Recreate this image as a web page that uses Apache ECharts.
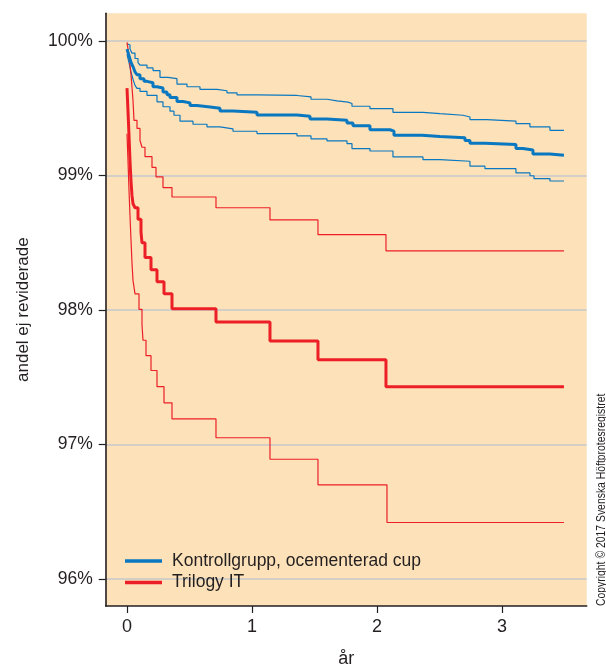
<!DOCTYPE html>
<html>
<head>
<meta charset="utf-8">
<script src="https://cdn.jsdelivr.net/npm/echarts@6/dist/echarts.min.js"></script>
<style>html,body{margin:0;padding:0;background:#fff}#c{width:606px;height:666px}</style>
</head>
<body>
<div id="c"></div>
<script>
// ---- data (years, percent not revised) ----
var yTicks = [96, 97, 98, 99, 100];
var xTicks = [0, 1, 2, 3];
var seriesNames = ['Kontrollgrupp, ocementerad cup', 'Trilogy IT'];
var xTitle = 'år';
var yTitle = 'andel ej reviderade';
var copyright = 'Copyright © 2017 Svenska Höftprotesregistret';

var blueT = [0,0.016,0.032,0.048,0.064,0.08,0.104,0.136,0.16,0.208,0.24,0.288,0.32,0.344,0.4,0.448,0.504,0.56,0.664,0.744,0.848,1.04,1.36,1.464,1.6,1.76,1.808,1.944,2.104,2.136,2.36,2.504,2.704,2.744,2.864,3.112,3.168,3.248,3.384,3.496];
var blueV = [99.94,99.89,99.84,99.81,99.77,99.75,99.72,99.70,99.69,99.66,99.65,99.62,99.60,99.58,99.55,99.54,99.52,99.51,99.50,99.48,99.47,99.45,99.44,99.42,99.41,99.39,99.37,99.34,99.33,99.30,99.29,99.28,99.26,99.24,99.23,99.20,99.19,99.16,99.15,99.15];

var blueUpT = [0,0.008,0.024,0.04,0.064,0.088,0.104,0.16,0.208,0.264,0.328,0.4,0.48,0.584,0.72,0.8,0.88,1.04,1.36,1.472,1.6,1.68,1.768,1.8,1.944,2.128,2.368,2.504,2.688,2.744,2.88,3.112,3.224,3.384,3.496];
var blueUpV = [99.98,99.97,99.94,99.91,99.87,99.84,99.82,99.80,99.78,99.73,99.72,99.68,99.66,99.64,99.63,99.615,99.60,99.595,99.585,99.567,99.555,99.546,99.535,99.515,99.497,99.47,99.46,99.448,99.435,99.416,99.405,99.386,99.361,99.336,99.336];

var blueLoT = [0,0.016,0.032,0.048,0.064,0.08,0.104,0.16,0.24,0.288,0.344,0.376,0.424,0.528,0.64,0.744,0.848,1.04,1.36,1.472,1.6,1.76,1.8,1.944,2.128,2.368,2.504,2.744,2.864,3.112,3.224,3.256,3.384,3.496];
var blueLoV = [99.90,99.84,99.77,99.715,99.67,99.648,99.626,99.596,99.548,99.511,99.478,99.448,99.404,99.381,99.361,99.347,99.329,99.312,99.295,99.273,99.258,99.237,99.20,99.182,99.138,99.118,99.106,99.069,99.051,99.019,98.998,98.977,98.959,98.959];

var redT = [0,0.008,0.016,0.024,0.032,0.04,0.048,0.064,0.088,0.112,0.12,0.144,0.192,0.24,0.296,0.36,0.712,1.144,1.528,2.072,3.496];
var redV = [99.65,99.48,99.30,99.11,98.96,98.85,98.79,98.76,98.675,98.58,98.50,98.39,98.30,98.21,98.12,98.01,97.91,97.77,97.63,97.43,97.43];

var redUpT = [0,0.016,0.032,0.048,0.056,0.08,0.104,0.12,0.144,0.2,0.232,0.288,0.36,0.712,1.144,1.528,2.072,3.496];
var redUpV = [99.99,99.89,99.75,99.56,99.41,99.35,99.26,99.21,99.14,99.06,98.99,98.91,98.84,98.76,98.67,98.56,98.44,98.44];

var redLoT = [0,0.008,0.016,0.024,0.032,0.04,0.048,0.064,0.096,0.12,0.128,0.152,0.192,0.24,0.296,0.36,0.712,1.144,1.528,2.08,3.496];
var redLoV = [99.31,99.11,98.89,98.70,98.52,98.35,98.22,98.12,98.005,97.89,97.775,97.66,97.55,97.43,97.31,97.19,97.05,96.89,96.70,96.42,96.42];

function pairs(t, v) { return t.map(function (x, i) { return [x, v[i]]; }); }

var BLUE = '#0a78c0', RED = '#ec1f27', TXT = '#231f20';
var FONT = "'Liberation Sans','Arial',sans-serif";

function line(name, t, v, color, w, z) {
  return {
    name: name, type: 'line', step: 'end', data: pairs(t, v),
    showSymbol: false, symbol: 'none', silent: true, z: z,
    color: color, itemStyle: { color: color },
    lineStyle: { color: color, width: w }
  };
}

var chart = echarts.init(document.getElementById('c'), null, { renderer: 'canvas' });
chart.setOption({
  animation: false,
  backgroundColor: '#ffffff',
  textStyle: { fontFamily: FONT, color: TXT },
  grid: { left: 105.7, right: 19.3, top: 13.3, bottom: 60, show: true, backgroundColor: '#fde1b9', borderWidth: 0,
    containLabel: false, outerBoundsMode: 'none' },
  xAxis: {
    type: 'value', min: -0.1704, max: 3.678,
    name: xTitle, nameLocation: 'middle', nameGap: 44,
    nameTextStyle: { fontSize: 18, color: TXT, fontFamily: FONT },
    axisLine: { show: true, onZero: false, lineStyle: { color: TXT, width: 1.6 } },
    axisTick: { show: true, length: 7, customValues: xTicks, lineStyle: { color: TXT, width: 1.2 } },
    axisLabel: { customValues: xTicks, fontSize: 18, color: TXT, margin: 12, fontFamily: FONT },
    splitLine: { show: false }
  },
  yAxis: {
    type: 'value', min: 95.799, max: 100.206,
    name: yTitle, nameLocation: 'middle', nameGap: 74,
    nameTextStyle: { fontSize: 17, color: TXT, fontFamily: FONT },
    axisLine: { show: true, onZero: false, lineStyle: { color: TXT, width: 1.6 } },
    axisTick: { show: true, length: 7, customValues: yTicks, lineStyle: { color: TXT, width: 1.2 } },
    axisLabel: { customValues: yTicks, fontSize: 17.5, color: TXT, margin: 13, fontFamily: FONT,
      formatter: function (v) { return Math.round(v) + '%'; } },
    splitLine: { show: true, lineStyle: { color: '#c6c9cb', width: 1.5 } }
  },
  legend: {
    data: seriesNames, orient: 'vertical', left: 125, top: 551.5, padding: 0,
    icon: 'rect', itemWidth: 37, itemHeight: 3.5, itemGap: 2.5,
    textStyle: { fontSize: 17.5, color: TXT, fontFamily: FONT, lineHeight: 19, padding: [0, 0, 0, 5] }
  },
  graphic: [{
    type: 'text', x: 601, y: 606, rotation: Math.PI / 2, scaleX: 0.8,
    style: { text: copyright, fontSize: 13, fontFamily: FONT, fill: TXT, textAlign: 'left', textVerticalAlign: 'middle' }
  }],
  series: [
    line('kb_up', blueUpT, blueUpV, BLUE, 1.2, 2),
    line('kb_lo', blueLoT, blueLoV, BLUE, 1.2, 2),
    line('rb_up', redUpT, redUpV, RED, 1.2, 2),
    line('rb_lo', redLoT, redLoV, RED, 1.2, 2),
    line(seriesNames[0], blueT, blueV, BLUE, 3, 3),
    line(seriesNames[1], redT, redV, RED, 3, 3)
  ]
});
</script>
</body>
</html>
